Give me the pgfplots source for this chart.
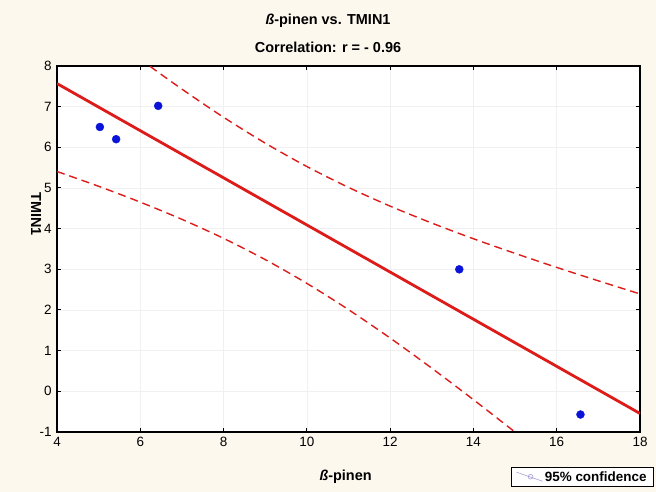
\documentclass[border=0pt]{standalone}
\usepackage{pgfplots}
\pgfplotsset{compat=1.18}
\usepackage{fontspec}
\setmainfont{Liberation Sans}
\definecolor{bgc}{HTML}{FCF8EE}
\definecolor{fitred}{HTML}{DD1C1A}
\definecolor{ptblue}{HTML}{0A14D8}
\definecolor{lav}{HTML}{A8A0D8}
\begin{document}
\begin{tikzpicture}[x=1bp,y=1bp]
\fill[bgc] (0,0) rectangle (656,492);
\node[font=\bfseries\fontsize{14.5}{16}\selectfont] at (328,471) {\textit{ß}-pinen vs. TMIN1};
\node[font=\bfseries\fontsize{14.5}{16}\selectfont] at (328,445) {Correlation: r = - 0.96};
\begin{axis}[
  at={(57bp,60bp)}, anchor=south west,
  width=583bp, height=366bp, scale only axis,
  xmin=4, xmax=18, ymin=-1, ymax=8,
  xtick={4,6,...,18}, ytick={-1,0,...,8},
  tick align=inside, major tick length=4bp,
  axis line style={line width=1.5bp, black},
  tick style={line width=1bp, black},
  grid=major, grid style={line width=0.5bp, black!6},
  axis background/.style={fill=white},
  /pgf/number format/assume math mode=true,
  ticklabel style={font=\fontsize{13.5}{15}\selectfont},
  xticklabel style={yshift=-2bp},
  yticklabel style={xshift=-2bp},
  xlabel={\textit{ß}-pinen}, ylabel={TMIN1},
  xlabel style={font=\bfseries\fontsize{14.5}{16}\selectfont, at={(ticklabel cs:0.495)}, anchor=center, yshift=-26bp},
  ylabel style={font=\bfseries\fontsize{14.5}{16}\selectfont, rotate=180, at={(ticklabel cs:0.5)}, anchor=center, xshift=-35bp},
  legend style={at={(1.024,-0.096)}, anchor=north east, draw=black, line width=1bp,
    font=\bfseries\fontsize{13.5}{15}\selectfont, inner xsep=5bp, inner ysep=2bp, fill=white},
  legend cell align=left,
  clip=true,
]
\addplot[fitred, dash pattern=on 8bp off 5bp, line width=1.4bp, smooth, forget plot] coordinates {
(4,9.730) (5,8.936) (6,8.166) (7,7.431) (8,6.739) (9,6.103) (10,5.528) (11,5.015) (12,4.554) (13,4.138) (14,3.752) (15,3.392) (16,3.047) (17,2.717) (18,2.395)};
\addplot[fitred, dash pattern=on 8bp off 5bp, line width=1.4bp, smooth, forget plot] coordinates {
(4,5.406) (5,5.042) (6,4.652) (7,4.229) (8,3.761) (9,3.239) (10,2.654) (11,2.009) (12,1.310) (13,0.568) (14,-0.206) (15,-1.004) (16,-1.819) (17,-2.647) (18,-3.485)};
\addplot[fitred, line width=2.8bp, forget plot] coordinates {(4,7.568) (18,-0.545)};
\addplot[only marks, mark=*, mark size=4bp, ptblue, mark options={draw=ptblue, fill=ptblue}, forget plot] coordinates {
(5.03,6.50) (5.42,6.20) (6.43,7.02) (13.66,3.00) (16.57,-0.57)};
\addlegendimage{legend image code/.code={
  \draw[lav, line width=0.6bp] (0bp,5bp) -- (26bp,-4bp);
  \draw[lav, line width=0.6bp] (14bp,0.5bp) circle (2.4bp);}}
\addlegendentry{95\% confidence}
\end{axis}
\end{tikzpicture}
\end{document}
